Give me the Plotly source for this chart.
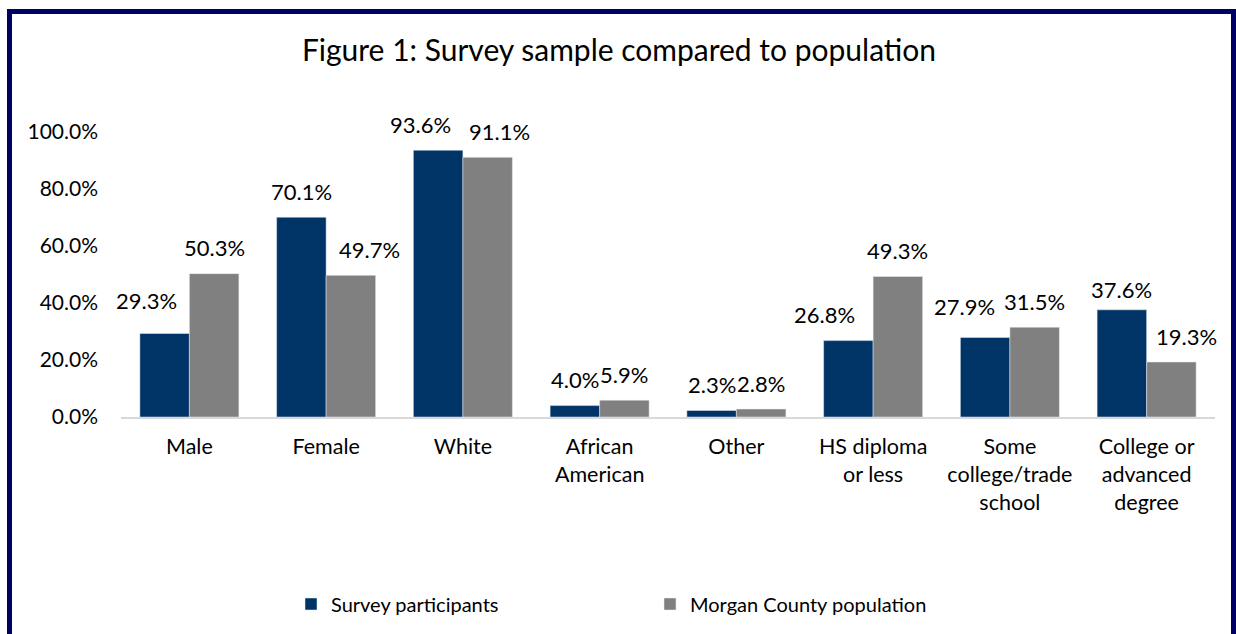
import plotly.graph_objects as go

categories = ["Male", "Female", "White", "African<br>American", "Other",
              "HS diploma<br>or less", "Some<br>college/trade<br>school",
              "College or<br>advanced<br>degree"]
survey = [29.3, 70.1, 93.6, 4.0, 2.3, 26.8, 27.9, 37.6]
population = [50.3, 49.7, 91.1, 5.9, 2.8, 49.3, 31.5, 19.3]
ytick_vals = [0, 20, 40, 60, 80, 100]
ytick_text = ["0.0%", "20.0%", "40.0%", "60.0%", "80.0%", "100.0%"]

# label nudges in px (style only), per series and category index
survey_label_dx = {0: -18, 2: -18, 5: -24, 6: -21}
population_label_dx = {1: 19, 2: 12, 7: 15}
survey_label_dy = {0: 7, 6: 5, 7: -6}

W, H = 1236, 634
L, R, T, B = 121, 21, 132, 217
pw, ph = W - L - R, H - T - B
FONT = "Lato"
BLUE = "#003366"
GRAY = "#808080"

fig = go.Figure()
fig.add_trace(go.Bar(name="Survey participants", x=categories, y=survey,
                     marker_color=BLUE))
fig.add_trace(go.Bar(name="Morgan County population", x=categories, y=population,
                     marker_color=GRAY))

bargap = 0.276
slot = pw / len(categories)
barw = slot * (1 - bargap) / 2
annotations = []
for vals, sgn, dxs, dys in ((survey, -1, survey_label_dx, survey_label_dy),
                            (population, 1, population_label_dx, {})):
    for i, (c, v) in enumerate(zip(categories, vals)):
        annotations.append(dict(x=c, y=v, xref="x", yref="y", text=f"{v:.1f}%",
                                showarrow=False,
                                xshift=sgn * barw / 2 + dxs.get(i, 0),
                                yshift=26 + dys.get(i, 0),
                                font=dict(family=FONT, size=22, color="#000000")))

def px(xp):
    return (xp - L) / pw

def py(yp):
    return (H - B - yp) / ph

fig.add_shape(type="rect", xref="paper", yref="paper",
              x0=px(9.5), x1=px(1233.5), y0=py(700), y1=py(11.5),
              line=dict(color="#000066", width=5), fillcolor="rgba(0,0,0,0)")

fig.update_layout(
    width=W, height=H,
    margin=dict(l=L, r=R, t=T, b=B, autoexpand=False),
    paper_bgcolor="white", plot_bgcolor="white",
    barmode="group", bargap=bargap, bargroupgap=0,
    title=dict(text="Figure 1: Survey sample compared to population",
               x=619 / W, xanchor="center", y=1 - 50 / H, yanchor="middle",
               font=dict(family=FONT, size=30, color="#000000")),
    font=dict(family=FONT, size=21, color="#000000"),
    xaxis=dict(range=[-0.5, len(categories) - 0.5], autorange=False,
               showline=True, linecolor="#d9d9d9", linewidth=2, showgrid=False,
               ticks="", ticklabelstandoff=9, tickfont=dict(size=21.5)),
    yaxis=dict(range=[0, 100], tickvals=ytick_vals, ticktext=ytick_text,
               showgrid=False, zeroline=False, showline=False, ticks="",
               ticklabelstandoff=22, tickfont=dict(size=21)),
    legend=dict(orientation="h", x=px(291), xanchor="left", y=py(604), yanchor="middle",
                font=dict(family=FONT, size=20), entrywidth=314, traceorder="normal"),
    annotations=annotations,
    showlegend=True,
)

fig.write_html("out.html")
